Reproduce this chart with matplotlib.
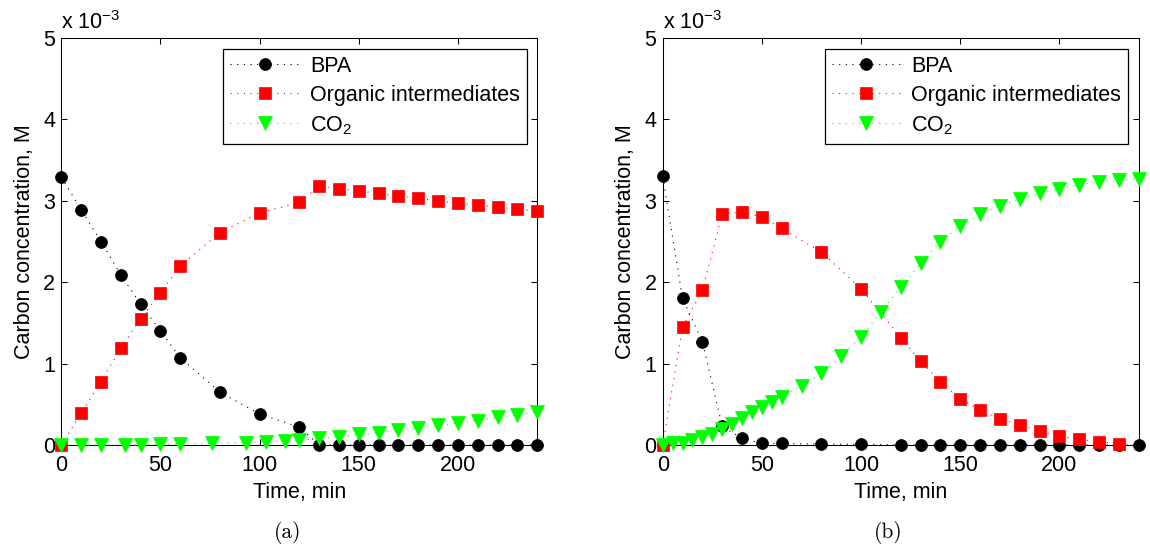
import matplotlib
matplotlib.use("Agg")
import matplotlib.pyplot as plt

plt.rcParams["font.family"] = ["Liberation Sans", "DejaVu Sans"]
plt.rcParams["mathtext.fontset"] = "custom"
plt.rcParams["mathtext.rm"] = "Liberation Sans"
plt.rcParams["mathtext.default"] = "regular"

# ---- (a) carbon balance, units of 1e-3 M ----
t_bpa_a = [0, 10, 20, 30, 40, 50, 60, 80, 100, 120, 130, 140, 150, 160, 170,
           180, 190, 200, 210, 220, 230, 240]
bpa_a = [3.29, 2.89, 2.50, 2.09, 1.73, 1.40, 1.07, 0.65, 0.38, 0.22, 0, 0, 0,
         0, 0, 0, 0, 0, 0, 0, 0, 0]
t_org_a = t_bpa_a
org_a = [0, 0.39, 0.78, 1.19, 1.55, 1.87, 2.20, 2.61, 2.85, 2.98, 3.18, 3.15,
         3.12, 3.09, 3.06, 3.03, 3.00, 2.97, 2.95, 2.92, 2.90, 2.87]
t_co2_a = [0, 10, 20, 32, 40, 50, 60, 76, 93, 103, 113, 120, 130, 140, 150,
           160, 170, 180, 190, 200, 210, 220, 230, 240]
co2_a = [0, 0, 0, 0, 0, 0.01, 0.01, 0.02, 0.03, 0.04, 0.05, 0.06, 0.08, 0.10,
         0.13, 0.15, 0.18, 0.21, 0.24, 0.27, 0.30, 0.34, 0.37, 0.41]

# ---- (b) carbon balance, units of 1e-3 M ----
t_bpa_b = [0, 10, 20, 30, 40, 50, 60, 80, 100, 120, 130, 140, 150, 160, 170,
           180, 190, 200, 210, 220, 230, 240]
bpa_b = [3.30, 1.80, 1.27, 0.23, 0.08, 0.02, 0.02, 0.01, 0.01, 0, 0, 0, 0, 0,
         0, 0, 0, 0, 0, 0, 0, 0]
t_org_b = [0, 10, 20, 30, 40, 50, 60, 80, 100, 120, 130, 140, 150, 160, 170,
           180, 190, 200, 210, 220, 230]
org_b = [0, 1.45, 1.90, 2.84, 2.86, 2.80, 2.66, 2.37, 1.92, 1.32, 1.03, 0.77,
         0.57, 0.43, 0.32, 0.25, 0.17, 0.11, 0.07, 0.04, 0.015]
t_co2_b = [0, 5, 10, 15, 20, 25, 30, 35, 40, 45, 50, 55, 60, 70, 80, 90, 100,
           110, 120, 130, 140, 150, 160, 170, 180, 190, 200, 210, 220, 230, 240]
co2_b = [0, 0.02, 0.03, 0.06, 0.10, 0.14, 0.20, 0.26, 0.33, 0.40, 0.47, 0.53,
         0.59, 0.73, 0.88, 1.09, 1.33, 1.63, 1.94, 2.23, 2.50, 2.69, 2.84, 2.94,
         3.02, 3.09, 3.15, 3.20, 3.23, 3.25, 3.27]

series_labels = ["BPA", "Organic intermediates", "CO$_2$"]
x_ticks = [0, 50, 100, 150, 200]
y_ticks = [0, 1, 2, 3, 4, 5]
panel_tags = ["(a)", "(b)"]

W, H = 1150, 552
fig = plt.figure(figsize=(W / 100, H / 100), dpi=100)

FS = 15.5
dots = (0, (1, 5))
styles = [
    dict(color="black", marker="o", ms=8.6),
    dict(color="red", marker="s", ms=8.0),
    dict(color=(0, 1, 0), marker="v", ms=9.6),
]

panels = [
    (61.3, [(t_bpa_a, bpa_a), (t_org_a, org_a), (t_co2_a, co2_a)]),
    (662.7, [(t_bpa_b, bpa_b), (t_org_b, org_b), (t_co2_b, co2_b)]),
]
ax_w, ax_top, ax_bot = 476.0, 38.0, 445.0

for i, (x0, data) in enumerate(panels):
    ax = fig.add_axes([x0 / W, 1 - ax_bot / H, ax_w / W, (ax_bot - ax_top) / H])
    for (t, v), st, lab in zip(data, styles, series_labels):
        ax.plot(t, v, linestyle=dots, lw=0.8, color=st["color"],
                marker=st["marker"], ms=st["ms"], mfc=st["color"],
                mec=st["color"], mew=0.5, label=lab, clip_on=False, zorder=3)
    ax.set_xlim(0, 240)
    ax.set_ylim(0, 5)
    ax.set_xticks(x_ticks)
    ax.set_yticks(y_ticks)
    ax.tick_params(direction="in", length=4.5, width=0.75, labelsize=FS,
                   top=True, right=True, color="black")
    ax.tick_params(axis="x", pad=7.5)
    ax.tick_params(axis="y", pad=4.5)
    for s in ax.spines.values():
        s.set_linewidth(0.75)
    ax.set_xlabel("Time, min", fontsize=FS, labelpad=4)
    ax.set_ylabel("Carbon concentration, M", fontsize=FS, labelpad=6)
    leg = ax.legend(loc="upper right", fontsize=FS, numpoints=1,
                    handlelength=3.2, handletextpad=0.5, borderpad=0.32,
                    labelspacing=0.38, borderaxespad=0.5, fancybox=False,
                    framealpha=1, edgecolor="black")
    leg.get_frame().set_linewidth(0.9)
    fig.text(x0 / W, 1 - 29 / H, "x 10$^{-3}$", fontsize=FS,
             ha="left", va="baseline")
    fig.text((x0 + 226) / W, 1 - 532 / H, panel_tags[i], fontsize=15.5,
             family="cmr10", ha="center", va="center")

fig.savefig("out.png", dpi=100, facecolor="white")
